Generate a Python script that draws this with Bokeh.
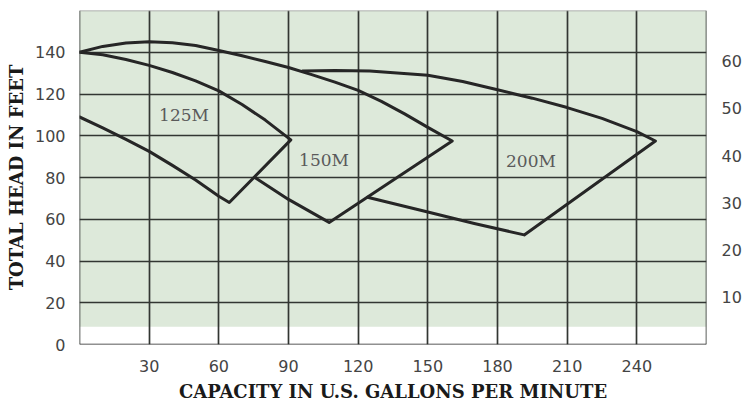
from bokeh.plotting import figure
from bokeh.models import Range1d, LinearAxis, FixedTicker, Label, Span
from bokeh.embed import file_html
from bokeh.resources import INLINE

# ---- data ----
gpm_ticks = [30, 60, 90, 120, 150, 180, 210, 240]
head_ticks = [0, 20, 40, 60, 80, 100, 120, 140]
psi_ticks = [10, 20, 30, 40, 50, 60]

# 125M region: upper curve, then lower curve (vertex last)
m125_upper_gpm = [0, 10, 20, 30, 40, 50, 60, 70, 80, 91]
m125_upper_head = [140, 138.8, 136.5, 133.7, 130.3, 126.3, 121.5, 115, 107.5, 98]
m125_lower_gpm = [0, 10, 20, 30, 40, 50, 60, 64.5]
m125_lower_head = [109, 103.8, 98.3, 92.5, 85.8, 78.8, 71, 68]

# 150M region
m150_upper_gpm = [0, 10, 20, 30, 40, 50, 60, 70, 80, 90, 100, 110, 120, 130, 140, 150, 160.5]
m150_upper_head = [140, 142.8, 144.4, 145, 144.6, 143.2, 140.8, 138.3, 135.6, 132.7,
                   129.3, 125.7, 121.7, 116.5, 110.5, 104, 97.5]
m150_lower_gpm = [75.5, 90, 107.5]
m150_lower_head = [80, 69.5, 58.5]

# 200M region
m200_upper_gpm = [96, 110, 125, 150, 165, 180, 195, 210, 225, 240, 248]
m200_upper_head = [131, 131.3, 131, 129, 126, 122, 118, 113.5, 108.3, 102, 97.5]
m200_lower_gpm = [124, 150, 170, 191.5]
m200_lower_head = [70.5, 63.5, 58, 52.5]

model_names = ["125M", "150M", "200M"]
label_gpm = [45, 105.3, 194.4]
label_head = [109.8, 88.3, 88]

GREEN_FLOOR = 8.5

p = figure(width=750, height=404, output_backend="svg", toolbar_location=None,
           x_range=Range1d(0, 270), y_range=Range1d(0, 160),
           min_border_left=79, min_border_right=44, min_border_top=10, min_border_bottom=59,
           background_fill_color="white", border_fill_color="white")
p.outline_line_color = None

# green chart paper
p.quad(left=[0], right=[270], bottom=[GREEN_FLOOR], top=[160],
       fill_color="#dde9da", line_color=None, level="image")

# grid
grid_col = "#323632"
p.xgrid.ticker = FixedTicker(ticks=gpm_ticks)
p.ygrid.ticker = FixedTicker(ticks=head_ticks[1:])
p.grid.grid_line_color = grid_col
p.grid.grid_line_width = 1.7
p.grid.grid_line_alpha = 1.0

# borders
for loc, dim, col in [(0, "height", grid_col), (270, "height", grid_col),
                      (0, "width", "#222222"), (160, "width", "#9a9a9a")]:
    p.add_layout(Span(location=loc, dimension=dim, line_color=col, line_width=1.6))

# curves
curve_color = "#262626"
for ug, uh, lg, lh in [(m125_upper_gpm, m125_upper_head, m125_lower_gpm, m125_lower_head),
                       (m150_upper_gpm, m150_upper_head, m150_lower_gpm, m150_lower_head),
                       (m200_upper_gpm, m200_upper_head, m200_lower_gpm, m200_lower_head)]:
    xs = list(ug) + list(lg[::-1])
    ys = list(uh) + list(lh[::-1])
    p.line(xs, ys, line_color=curve_color, line_width=3, line_join="round", line_cap="round")

for name, gx, gy in zip(model_names, label_gpm, label_head):
    p.add_layout(Label(x=gx, y=gy, text=name, text_font="DejaVu Serif", text_font_size="17px",
                       text_color="#5a5a5a", text_align="center", text_baseline="middle"))

tick_font = "DejaVu Sans"
title_font = "DejaVu Serif"
tick_col = "#444444"

# bottom axis
xa = p.xaxis[0]
xa.ticker = FixedTicker(ticks=gpm_ticks)
xa.axis_line_color = None
xa.major_tick_line_color = None
xa.minor_tick_line_color = None
xa.major_label_text_font = tick_font
xa.major_label_text_font_size = "16px"
xa.major_label_text_color = tick_col
xa.major_label_standoff = 9
xa.axis_label = "CAPACITY IN U.S. GALLONS PER MINUTE"
xa.axis_label_text_font = title_font
xa.axis_label_text_font_style = "bold"
xa.axis_label_text_font_size = "18px"
xa.axis_label_text_color = "#1a1a1a"
xa.axis_label_standoff = 6

# left axis
ya = p.yaxis[0]
ya.ticker = FixedTicker(ticks=head_ticks)
ya.axis_line_color = None
ya.major_tick_line_color = None
ya.minor_tick_line_color = None
ya.major_label_text_font = tick_font
ya.major_label_text_font_size = "16px"
ya.major_label_text_color = tick_col
ya.major_label_standoff = 8
ya.axis_label = "TOTAL HEAD IN FEET"
ya.axis_label_text_font = title_font
ya.axis_label_text_font_style = "bold"
ya.axis_label_text_font_size = "18px"
ya.axis_label_text_color = "#1a1a1a"
ya.axis_label_standoff = 5

# right axis
p.extra_y_ranges = {"psi": Range1d(0, 70.7)}
ra = LinearAxis(y_range_name="psi", ticker=FixedTicker(ticks=psi_ticks))
ra.axis_line_color = None
ra.major_tick_line_color = None
ra.minor_tick_line_color = None
ra.major_label_text_font = tick_font
ra.major_label_text_font_size = "16px"
ra.major_label_text_color = tick_col
ra.major_label_standoff = 9
p.add_layout(ra, "right")

open("out.html", "w").write(file_html(p, INLINE))
